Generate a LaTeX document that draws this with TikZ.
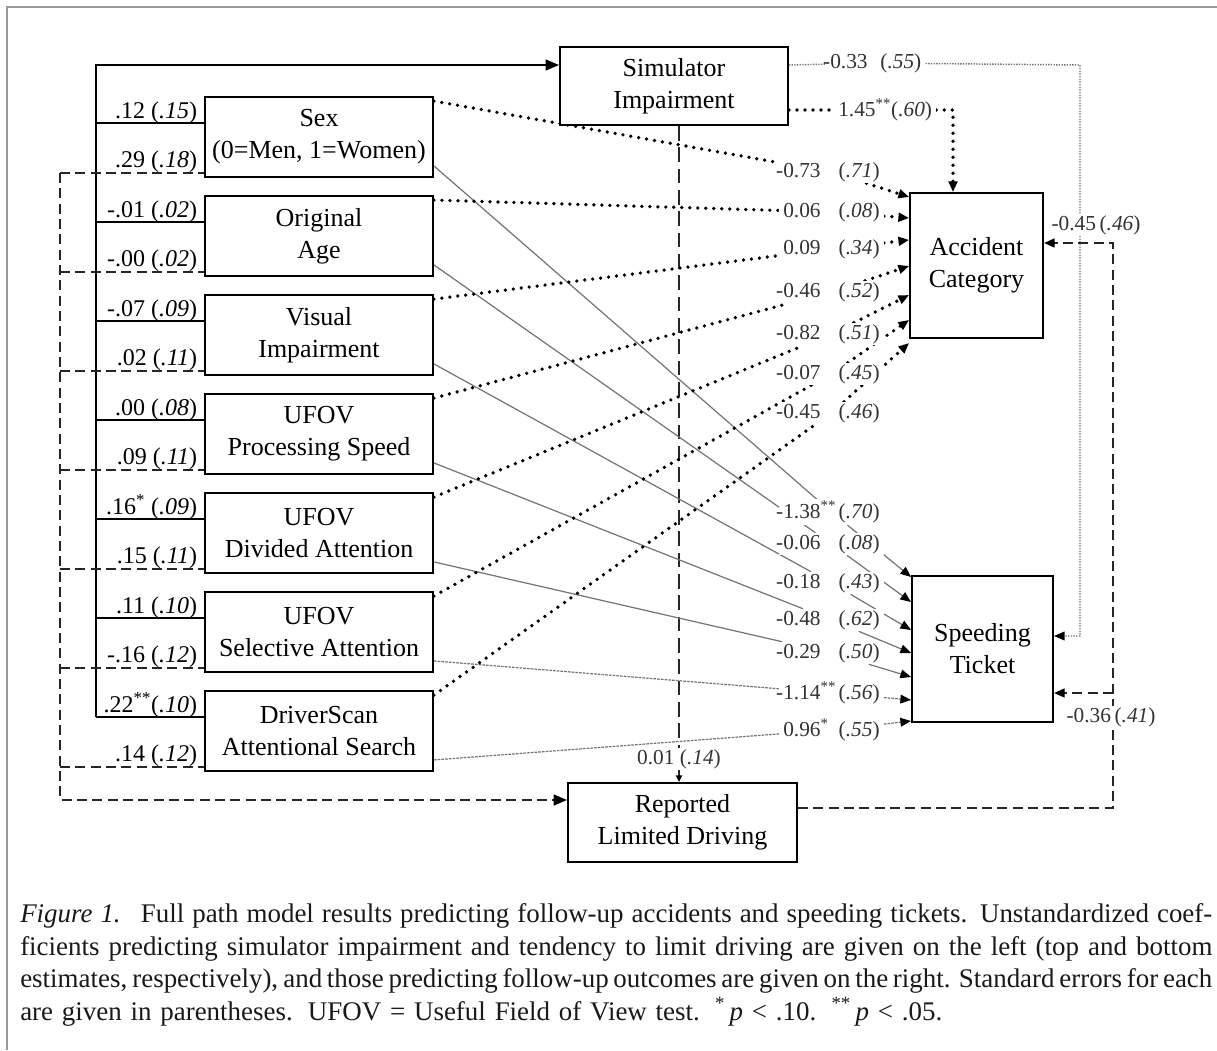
\documentclass[tikz,border=0pt]{standalone}
\usepackage{fontspec}
\setmainfont{Liberation Serif}
\usetikzlibrary{arrows.meta,calc}
\pgfdeclarelayer{bg}
\pgfsetlayers{bg,main}
\newcommand{\boxfont}{\fontsize{19.5}{24}\selectfont}
\newcommand{\llabfont}{\fontsize{18}{20}\selectfont}
\newcommand{\rlabfont}{\fontsize{16}{18}\selectfont}
\newcommand{\capfont}{\fontsize{20.2}{24}\selectfont}
\newcommand{\rnum}[2]{\makebox[2.6em][l]{#1}(\textit{#2})}
\begin{document}
\begin{tikzpicture}[x=0.75pt,y=-0.75pt,
  varbox/.style={draw=black, line width=1.4pt, fill=white, align=center, inner sep=0pt, font=\boxfont, minimum width=171pt, minimum height=60pt},
  llab/.style={font=\llabfont, inner sep=0.5pt, text=black},
  rlab/.style={font=\rlabfont, text=black!80, fill=white, inner xsep=3pt, inner ysep=1pt},
  captext/.style={font=\capfont, inner sep=0pt, text=black!90},
  frameline/.style={draw=black!40, line width=1.5pt},
  solidline/.style={draw=black, line width=1.5pt},
  dashline/.style={draw=black!85, line width=1.8pt, dash pattern=on 7.5pt off 4pt},
  longdash/.style={draw=black!85, line width=1.6pt, dash pattern=on 11pt off 5pt},
  heavydot/.style={draw=black, line width=2.8pt, line cap=round, dash pattern=on 0pt off 6pt},
  thinline/.style={draw=black!55, line width=0.9pt},
  thinfine/.style={draw=black!55, line width=0.9pt, dash pattern=on 2pt off 0.8pt},
  finedot/.style={draw=black!55, line width=1.1pt, dash pattern=on 1pt off 1pt},
  arr/.style={-{Triangle[length=8pt,width=6.5pt,color=black]}},
  arrbig/.style={-{Triangle[length=10pt,width=8pt,color=black]}},
  arrsmall/.style={-{Triangle[length=5pt,width=4.5pt,color=black]}}]
\useasboundingbox (0,0) rectangle (1217,1050);
\begin{pgfonlayer}{bg}
\fill[white] (0,0) rectangle (1217,1050);
\end{pgfonlayer}
\draw[frameline] (7,1050) -- (7,7) -- (1217,7);

% predictor boxes
\node[varbox] (p1) at (319,137) {Sex\\(0=Men, 1=Women)};
\node[varbox] (p2) at (319,236) {Original\\Age};
\node[varbox] (p3) at (319,335) {Visual\\Impairment};
\node[varbox] (p4) at (319,434) {UFOV\\Processing Speed};
\node[varbox] (p5) at (319,533) {UFOV\\Divided Attention};
\node[varbox] (p6) at (319,632) {UFOV\\Selective Attention};
\node[varbox] (p7) at (319,731) {DriverScan\\Attentional Search};

% outcome / mediator boxes
\node[varbox, minimum height=58.5pt] (sim) at (674,86) {Simulator\\Impairment};
\node[varbox, minimum width=171.75pt, minimum height=59.25pt] (rep) at (682.5,822.5) {Reported\\Limited Driving};
\node[varbox, minimum width=99.75pt, minimum height=108.75pt] (acc) at (976.5,265.5) {Accident\\Category};
\node[varbox, minimum width=105.75pt, minimum height=109.5pt] (spd) at (982.5,649) {Speeding\\Ticket};

\coordinate (bustop) at (96,65);
\coordinate (dbus) at (60,800);
\foreach \i in {1,...,7}{
  \coordinate (s\i) at ($(p\i.north west)+(0,27)$);
  \coordinate (d\i) at ($(p\i.south west)+(0,-5)$);
}

% left labels
\foreach \i/\ta/\tb in {1/{.12 (\textit{.15})}/{.29 (\textit{.18})},
  2/{-.01 (\textit{.02})}/{-.00 (\textit{.02})},
  3/{-.07 (\textit{.09})}/{.02 (\textit{.11})},
  4/{.00 (\textit{.08})}/{.09 (\textit{.11})},
  5/{.16\textsuperscript{*} (\textit{.09})}/{.15 (\textit{.11})},
  6/{.11 (\textit{.10})}/{-.16 (\textit{.12})},
  7/{.22\textsuperscript{**}(\textit{.10})}/{.14 (\textit{.12})}}{
  \node[llab, anchor=base east] (ta\i) at ($(s\i)+(-6,-5)$) {\ta};
  \node[llab, anchor=base east] (tb\i) at ($(d\i)+(-6,-5)$) {\tb};
}

% right labels, accident
\node[rlab, anchor=west] (a1) at (779,172) {\rnum{\llap{-}0.73}{.71}};
\node[rlab, anchor=west] (a2) at (779,212) {\rnum{0.06}{.08}};
\node[rlab, anchor=west] (a3) at (779,249) {\rnum{0.09}{.34}};
\node[rlab, anchor=west] (a4) at (779,292) {\rnum{\llap{-}0.46}{.52}};
\node[rlab, anchor=west] (a5) at (779,334) {\rnum{\llap{-}0.82}{.51}};
\node[rlab, anchor=west] (a6) at (779,374) {\rnum{\llap{-}0.07}{.45}};
\node[rlab, anchor=west] (a7) at (779,413) {\rnum{\llap{-}0.45}{.46}};
% right labels, speeding
\node[rlab, anchor=west] (b1) at (779,512) {\rnum{\llap{-}1.38\textsuperscript{**}}{.70}};
\node[rlab, anchor=west] (b2) at (779,544) {\rnum{\llap{-}0.06}{.08}};
\node[rlab, anchor=west] (b3) at (779,583) {\rnum{\llap{-}0.18}{.43}};
\node[rlab, anchor=west] (b4) at (779,620) {\rnum{\llap{-}0.48}{.62}};
\node[rlab, anchor=west] (b5) at (779,653) {\rnum{\llap{-}0.29}{.50}};
\node[rlab, anchor=west] (b6) at (779,693) {\rnum{\llap{-}1.14\textsuperscript{**}}{.56}};
\node[rlab, anchor=west] (b7) at (779,730) {\rnum{0.96\textsuperscript{*}}{.55}};

% other labels
\node[rlab, anchor=west] (c1) at (826,63) {\llap{-}0.33\hspace{0.6em}(\textit{.55})};
\node[rlab, anchor=west] (c2) at (834,110) {1.45\textsuperscript{**}(\textit{.60})};
\node[rlab] (l001) at (679,759) {0.01 (\textit{.14})};
\node[rlab] (e1) at (1096,225) {-0.45\,(\textit{.46})};
\node[rlab] (e2) at (1111,717) {-0.36\,(\textit{.41})};

\coordinate (cA) at (1080,65);
\coordinate (cB) at (953,110);
\coordinate (cR) at (1113,808);

\begin{pgfonlayer}{bg}
% solid bus to simulator
\draw[solidline, arrbig] (s7 -| bustop) -- (bustop) -- (sim.west |- bustop);
\foreach \i in {1,...,7}{\draw[solidline] (s\i -| bustop) -- (s\i);}
% dashed bus to reported driving
\draw[dashline, arrbig] (d1 -| dbus) -- (dbus) -- (rep.west |- dbus);
\foreach \i in {1,...,7}{\draw[dashline] (d\i -| dbus) -- (d\i);}
% simulator -> reported
\draw[longdash, arrsmall] (sim.south -| l001) -- (l001) -- (rep.north -| l001);
% simulator -> speeding
\draw[finedot, arr] (sim.east |- cA) -- (c1) -- (cA) -- (cA |- 0,636) -- (spd.east |- 0,636);
% simulator -> accident
\draw[heavydot, arr] (sim.east |- cB) -- (c2) -- (cB) -- (acc.north -| cB);
% reported -> outcomes
\draw[dashline, arr] (rep.east |- cR) -- (cR) -- (cR |- 0,243) -- (acc.east |- 0,243);
\draw[dashline, arr] (cR |- 0,693) -- (spd.east |- 0,693);
% predictors -> outcomes
\foreach \i/\ay/\by/\st in {1/197/577/thinline,2/218/602/thinline,3/240/630/thinline,4/266/653/thinline,5/295/677/thinline,6/320/700/thinfine,7/343/721/thinfine}{
  \draw[heavydot, arr] ($(p\i.north east)+(0,5)$) -- (a\i) -- (acc.west |- 0,\ay);
  \draw[\st, arr] ($(p\i.south east)+(0,-12)$) -- (b\i) -- (spd.west |- 0,\by);
}
\end{pgfonlayer}

% caption
\node[captext, anchor=base west] (cap1) at (20,922) {\makebox[894pt][s]{\textit{Figure 1.}\hspace{0.75em}Full path model results predicting follow-up accidents and speeding tickets. Unstandardized coef-}};
\node[captext, anchor=base west] (cap2) at (20,955) {\makebox[894pt][s]{ficients predicting simulator impairment and tendency to limit driving are given on the left (top and bottom}};
\node[captext, anchor=base west] (cap3) at (20,987) {\makebox[894pt][s]{estimates, respectively), and those predicting follow-up outcomes are given on the right. Standard errors for each}};
\node[captext, anchor=base west] (cap4) at (20,1020) {\makebox[691.5pt][s]{are given in parentheses. UFOV = Useful Field of View test. \textsuperscript{*}\,\textit{p} < .10. \textsuperscript{**}\,\textit{p} < .05.}};
\end{tikzpicture}
\end{document}
